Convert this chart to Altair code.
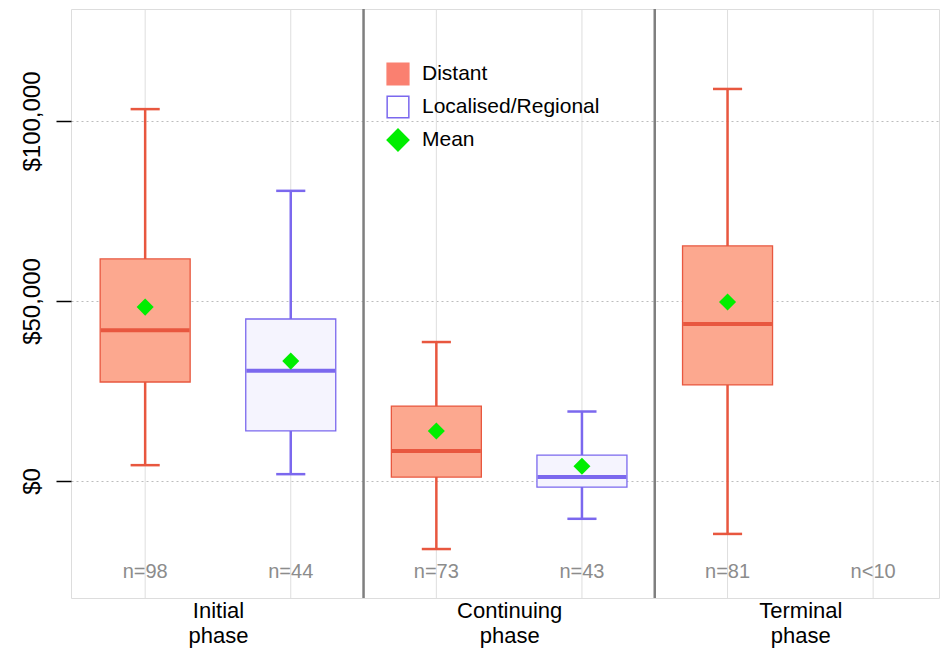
import json
import altair as alt
import pandas as pd

# ---------------- data ----------------
phases = ["Initial phase", "Continuing phase", "Terminal phase"]
groups = ["Distant", "Localised/Regional"]

dist_lo = [4400, -18900, -14700]
dist_q1 = [27500, 1100, 26700]
dist_med = [41900, 8300, 43600]
dist_q3 = [61700, 20800, 65300]
dist_hi = [103300, 38600, 108900]
dist_mean = [48300, 13900, 49700]

loc_lo = [1900, -10500, None]
loc_q1 = [13900, -1700, None]
loc_med = [30600, 1100, None]
loc_q3 = [45000, 7200, None]
loc_hi = [80600, 19300, None]
loc_mean = [33300, 4100, None]

n_dist = ["n=98", "n=73", "n=81"]
n_loc = ["n=44", "n=43", "n<10"]

legend_keys = ["Distant", "Localised/Regional", "Mean"]
y_ticks = [0, 50000, 100000]

# ---------------- styles ----------------
LINE = {"Distant": "#E8573F", "Localised/Regional": "#7B68EE"}
FILL = {"Distant": "#FCA88F", "Localised/Regional": "#F5F4FE"}
MEAN_COLOR = "#00EE00"
FONT = "Liberation Sans"

stats = {
    "Distant": (dist_lo, dist_q1, dist_med, dist_q3, dist_hi, dist_mean, n_dist),
    "Localised/Regional": (loc_lo, loc_q1, loc_med, loc_q3, loc_hi, loc_mean, n_loc),
}

box_rows, lab_rows = [], []
for i, ph in enumerate(phases):
    for j, g in enumerate(groups):
        lo, q1, med, q3, hi, mn, nl = stats[g]
        pos = 2 * i + j + 1
        lab_rows.append({"pos": pos, "label": nl[i]})
        if lo[i] is not None:
            box_rows.append({"pos": pos, "group": g, "lo": lo[i], "q1": q1[i],
                             "med": med[i], "q3": q3[i], "hi": hi[i], "mean": mn[i]})
box_df = pd.DataFrame(box_rows)
lab_df = pd.DataFrame(lab_rows)
sep_df = pd.DataFrame({"pos": [2 * k + 0.5 for k in range(1, len(phases))]})
leg_df = pd.DataFrame({"key": legend_keys})

line_expr = f"datum.group == 'Distant' ? '{LINE['Distant']}' : '{LINE['Localised/Regional']}'"
fill_expr = f"datum.group == 'Distant' ? '{FILL['Distant']}' : '{FILL['Localised/Regional']}'"

# ---------------- scales / axes ----------------
xscale = alt.Scale(domain=[0.525, 6.418], nice=False, zero=False)
yscale = alt.Scale(domain=[-32500, 131111], nice=False, zero=False)

label_expr = "split(" + json.dumps(phases) + "[floor(datum.value / 2)], ' ')"
xaxis = alt.Axis(values=[1.5, 3.5, 5.5], labelExpr=label_expr, ticks=False, domain=False,
                 grid=False, title=None, labelFontSize=22, labelColor="black",
                 labelLineHeight=25, labelPadding=2, labelBaseline="top", labelFont=FONT)
yaxis = alt.Axis(values=y_ticks, format="$,d", labelAngle=270, labelAlign="center",
                 labelBaseline="bottom", labelFontSize=24, labelColor="black", labelFont=FONT,
                 labelPadding=12, tickSize=15, tickColor="black", tickWidth=1.5,
                 domain=False, grid=True, gridColor="#BDBDBD", gridDash=[2, 3],
                 gridWidth=1, title=None)


def X(field):
    return alt.X(field, scale=xscale, axis=xaxis)


def Y(field):
    return alt.Y(field, scale=yscale, axis=yaxis)


base = alt.Chart(box_df).transform_calculate(linec=line_expr, fillc=fill_expr)

vgrid = alt.Chart(lab_df).mark_rule(color="#DEDEDE", strokeWidth=1).encode(x=X("pos:Q"))
seps = alt.Chart(sep_df).mark_rule(color="#7F7F7F", strokeWidth=2.5).encode(x=X("pos:Q"))

whisk = base.mark_rule(strokeWidth=2.5).encode(
    x=X("pos:Q"), y=Y("lo:Q"), y2="hi:Q", stroke=alt.Stroke("linec:N", scale=None))

caps = base.transform_fold(["lo", "hi"], as_=["k", "v"]).transform_calculate(
    xl="datum.pos - 0.1", xr="datum.pos + 0.1").mark_rule(strokeWidth=2.5).encode(
    x=X("xl:Q"), x2="xr:Q", y=Y("v:Q"), stroke=alt.Stroke("linec:N", scale=None))

boxes = base.mark_bar(size=90, strokeWidth=1.3).encode(
    x=X("pos:Q"), y=Y("q1:Q"), y2="q3:Q",
    fill=alt.Fill("fillc:N", scale=None), stroke=alt.Stroke("linec:N", scale=None))

meds = base.transform_calculate(xl="datum.pos - 0.305", xr="datum.pos + 0.305").mark_rule(
    strokeWidth=4).encode(x=X("xl:Q"), x2="xr:Q", y=Y("med:Q"),
                          stroke=alt.Stroke("linec:N", scale=None))

means = base.mark_point(shape="diamond", filled=True, size=290, color=MEAN_COLOR,
                        opacity=1).encode(x=X("pos:Q"), y=Y("mean:Q"))

nlabels = alt.Chart(lab_df).mark_text(fontSize=20, color="#8C8C8C", baseline="middle",
                                      font=FONT).encode(
    x=X("pos:Q"), y=alt.value(563), text="label:N")

leg = alt.Legend(orient="none", legendX=315, legendY=53, title=None, labelFontSize=21,
                 labelColor="black", labelFont=FONT, labelOffset=12, rowPadding=5,
                 labelLimit=400, padding=0, symbolStrokeWidth=1.5)
legend_layer = alt.Chart(leg_df).mark_point(filled=True, clip=True).encode(
    x=alt.value(-200), y=alt.value(-200),
    fill=alt.Fill("key:N", scale=alt.Scale(domain=legend_keys,
                                           range=["#FA8070", "#FFFFFF", MEAN_COLOR]), legend=leg),
    stroke=alt.Stroke("key:N", scale=alt.Scale(domain=legend_keys,
                                               range=["#FA8070", LINE["Localised/Regional"], MEAN_COLOR]), legend=leg),
    shape=alt.Shape("key:N", scale=alt.Scale(domain=legend_keys,
                                             range=["square", "square", "diamond"]), legend=leg),
    size=alt.Size("key:N", scale=alt.Scale(domain=legend_keys, range=[470, 470, 300]), legend=leg),
)

chart = alt.layer(vgrid, seps, whisk, caps, boxes, meds, means, nlabels, legend_layer).properties(
    width=868, height=589,
    autosize=alt.AutoSizeParams(type="none"),
    padding={"left": 63, "top": 1, "right": 1, "bottom": 52},
).configure_view(stroke="#8A8A8A", strokeWidth=1.5).configure(background="white", font=FONT)

chart.save("out.html", embed_options={"renderer": "svg", "actions": False})
